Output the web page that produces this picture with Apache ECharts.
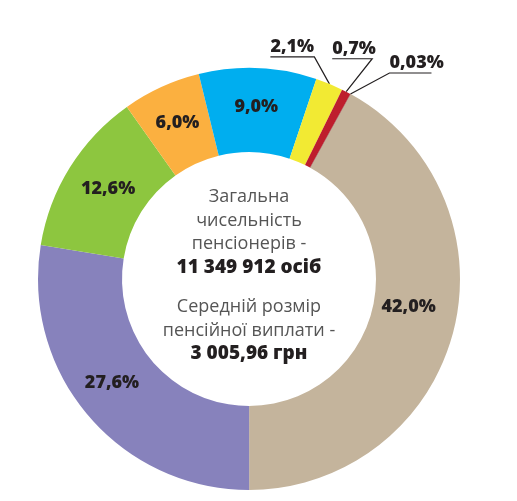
<!DOCTYPE html>
<html lang="uk">
<head>
<meta charset="UTF-8">
<title>Пенсіонери</title>
<script src="https://cdn.jsdelivr.net/npm/echarts@6/dist/echarts.min.js"></script>
<style>
  html, body { margin: 0; padding: 0; background: #fff; }
  #chart { width: 517px; height: 501px; }
</style>
</head>
<body>
<div id="chart"></div>
<script>
// частки пенсіонерів, % (за годинниковою стрілкою від бежевого сектора)
var shares = [42.0, 27.6, 12.6, 6.0, 9.0, 2.1, 0.7, 0.03];
var colors = ['#c4b49c', '#8782bc', '#8dc63f', '#fbb040', '#00aeef', '#f2ea33', '#be1e2d', '#7a1418'];
// текст у центрі кільця
var centerTop = ['Загальна', 'чисельність', 'пенсіонерів -'];
var centerTopBold = '11 349 912 осіб';
var centerBottom = ['Середній розмір', 'пенсійної виплати -'];
var centerBottomBold = '3 005,96 грн';

var cx = 249, cy = 279;
var dark = '#231f20';

// малі сектори: зсув зламу лінії від краю сектора, довжина підкреслення, напрямок
var callouts = {
  5: { dx: -15, dy: -27, len: 44, dir: -1 },
  6: { dx: 26, dy: -33, len: 40, dir: -1 },
  7: { dx: 39, dy: -21, len: 42, dir: 1 }
};
// ручні зсуви підписів усередині кільця
var insideOffsets = { 0: [-7, -15], 1: [-6, -8], 2: [5, 1] };

function fmt(v) {
  return (v < 0.1 ? v.toFixed(2) : v.toFixed(1)).replace('.', ',') + '%';
}

var data = shares.map(function (v, i) {
  var item = { value: v, itemStyle: { color: colors[i] } };
  if (callouts[i]) {
    item.label = { position: 'outside' };
    item.labelLine = { show: true };
  }
  if (insideOffsets[i]) item.label = { offset: insideOffsets[i] };
  return item;
});

// рядки тексту в центрі
var graphics = [];
var lh = 23.5;
var regFont = '18px "Open Sans"';
var boldFont = '800 19px "Open Sans"';
var y0 = 197;
centerTop.forEach(function (t, i) {
  graphics.push({ type: 'text', x: cx, y: y0 + i * lh,
    style: { text: t, textAlign: 'center', textVerticalAlign: 'middle', fill: '#555', font: regFont } });
});
graphics.push({ type: 'text', x: cx, y: y0 + 3 * lh,
  style: { text: centerTopBold, textAlign: 'center', textVerticalAlign: 'middle', fill: dark, font: boldFont } });
var y1 = 307;
centerBottom.forEach(function (t, i) {
  graphics.push({ type: 'text', x: cx, y: y1 + i * lh,
    style: { text: t, textAlign: 'center', textVerticalAlign: 'middle', fill: '#555', font: regFont } });
});
graphics.push({ type: 'text', x: cx, y: y1 + 2 * lh,
  style: { text: centerBottomBold, textAlign: 'center', textVerticalAlign: 'middle', fill: dark, font: boldFont } });

var chart = echarts.init(document.getElementById('chart'));
chart.setOption({
  animation: false,
  graphic: graphics,
  series: [{
    type: 'pie',
    center: [cx, cy],
    radius: [127, 211],
    startAngle: 61.2,
    clockwise: true,
    avoidLabelOverlap: false,
    itemStyle: { borderWidth: 0 },
    emphasis: { disabled: true },
    label: {
      show: true,
      position: 'inside',
      formatter: function (p) { return fmt(p.value); },
      color: dark,
      fontFamily: 'Open Sans',
      fontWeight: 800,
      fontSize: 18
    },
    labelLine: { show: false, lineStyle: { color: dark, width: 1.2 } },
    labelLayout: function (p) {
      var c = callouts[p.dataIndex];
      if (!c || !p.labelLinePoints) return {};
      var p0 = p.labelLinePoints[0];
      var ex = p0[0] + c.dx, ey = p0[1] + c.dy;
      var endX = ex + c.dir * c.len;
      var leftX = Math.min(ex, endX);
      return {
        x: leftX,
        y: ey - 1,
        align: 'left',
        verticalAlign: 'bottom',
        labelLinePoints: [p0, [ex, ey], [endX, ey]]
      };
    },
    data: data
  }]
});
</script>
</body>
</html>
